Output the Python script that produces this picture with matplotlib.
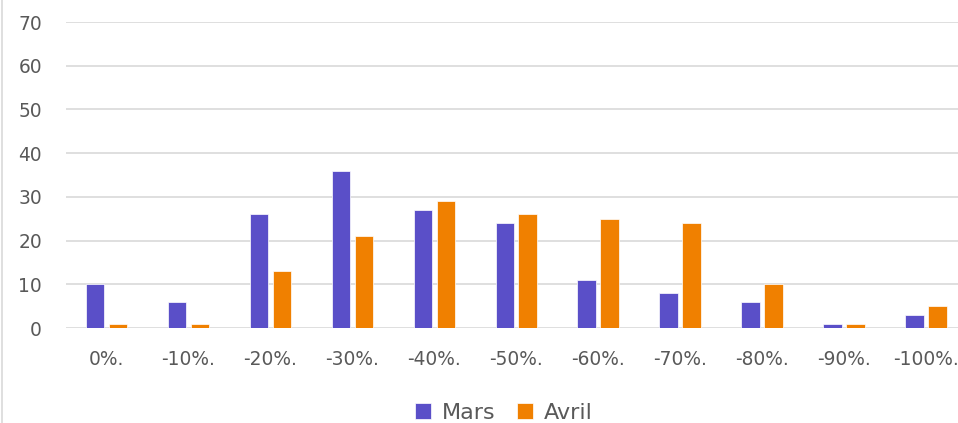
import numpy as np
import matplotlib
matplotlib.use("Agg")
import matplotlib.pyplot as plt
from matplotlib.lines import Line2D

# ── Data ──────────────────────────────────────────────────────────────────────
categories = ["0%.", "-10%.", "-20%.", "-30%.", "-40%.", "-50%.",
              "-60%.", "-70%.", "-80%.", "-90%.", "-100%."]
mars  = [10, 6, 26, 36, 27, 24, 11, 8, 6, 1, 3]
avril = [1, 1, 13, 21, 29, 26, 25, 24, 10, 1, 5]
y_ticks = [0, 10, 20, 30, 40, 50, 60, 70]

MARS_COLOR  = "#5A4FC8"
AVRIL_COLOR = "#F08000"
TEXT_COLOR  = "#595959"
GRID_COLOR  = "#D9D9D9"

plt.rcParams["font.family"] = ["DejaVu Sans"]

W, H = 958, 423
fig = plt.figure(figsize=(W / 100, H / 100), dpi=100)

# axes placed in pixel terms to match the reference layout
left, right = 65.5, 958
bottom, top = 328, 22
ax = fig.add_axes([left / W, 1 - bottom / H, (right - left) / W, (bottom - top) / H])

x = np.arange(len(categories))
bar_w = 0.225
off = 0.14
ax.bar(x - off, mars, width=bar_w, color=MARS_COLOR, label="Mars",
       edgecolor="white", linewidth=0.5, zorder=3)
ax.bar(x + off, avril, width=bar_w, color=AVRIL_COLOR, label="Avril",
       edgecolor="white", linewidth=0.5, zorder=3)

cat_px = 81.95
ax.set_xlim(-0.5, -0.5 + (right - left) / cat_px)
ax.set_ylim(0, 70)
ax.set_yticks(y_ticks)
ax.set_xticks(x)
ax.set_xticklabels(categories)

ax.grid(axis="y", color=GRID_COLOR, linewidth=1.2, zorder=0)
for s in ax.spines.values():
    s.set_visible(False)
ax.tick_params(axis="both", length=0, labelsize=13.4, colors=TEXT_COLOR)
ax.tick_params(axis="y", pad=17)
ax.tick_params(axis="x", pad=16)

# legend below the plot
fig.legend(loc="center", bbox_to_anchor=(504 / W, 1 - 413 / H), ncol=2,
           frameon=False, fontsize=16, labelcolor=TEXT_COLOR,
           handlelength=0.72, handleheight=0.72, handletextpad=0.5,
           columnspacing=0.95, borderpad=0)

# faint chart border on the left edge
fig.add_artist(Line2D([1.5 / W, 1.5 / W], [0, 1], color=GRID_COLOR, linewidth=1.2))

fig.savefig("out.png", dpi=100)
